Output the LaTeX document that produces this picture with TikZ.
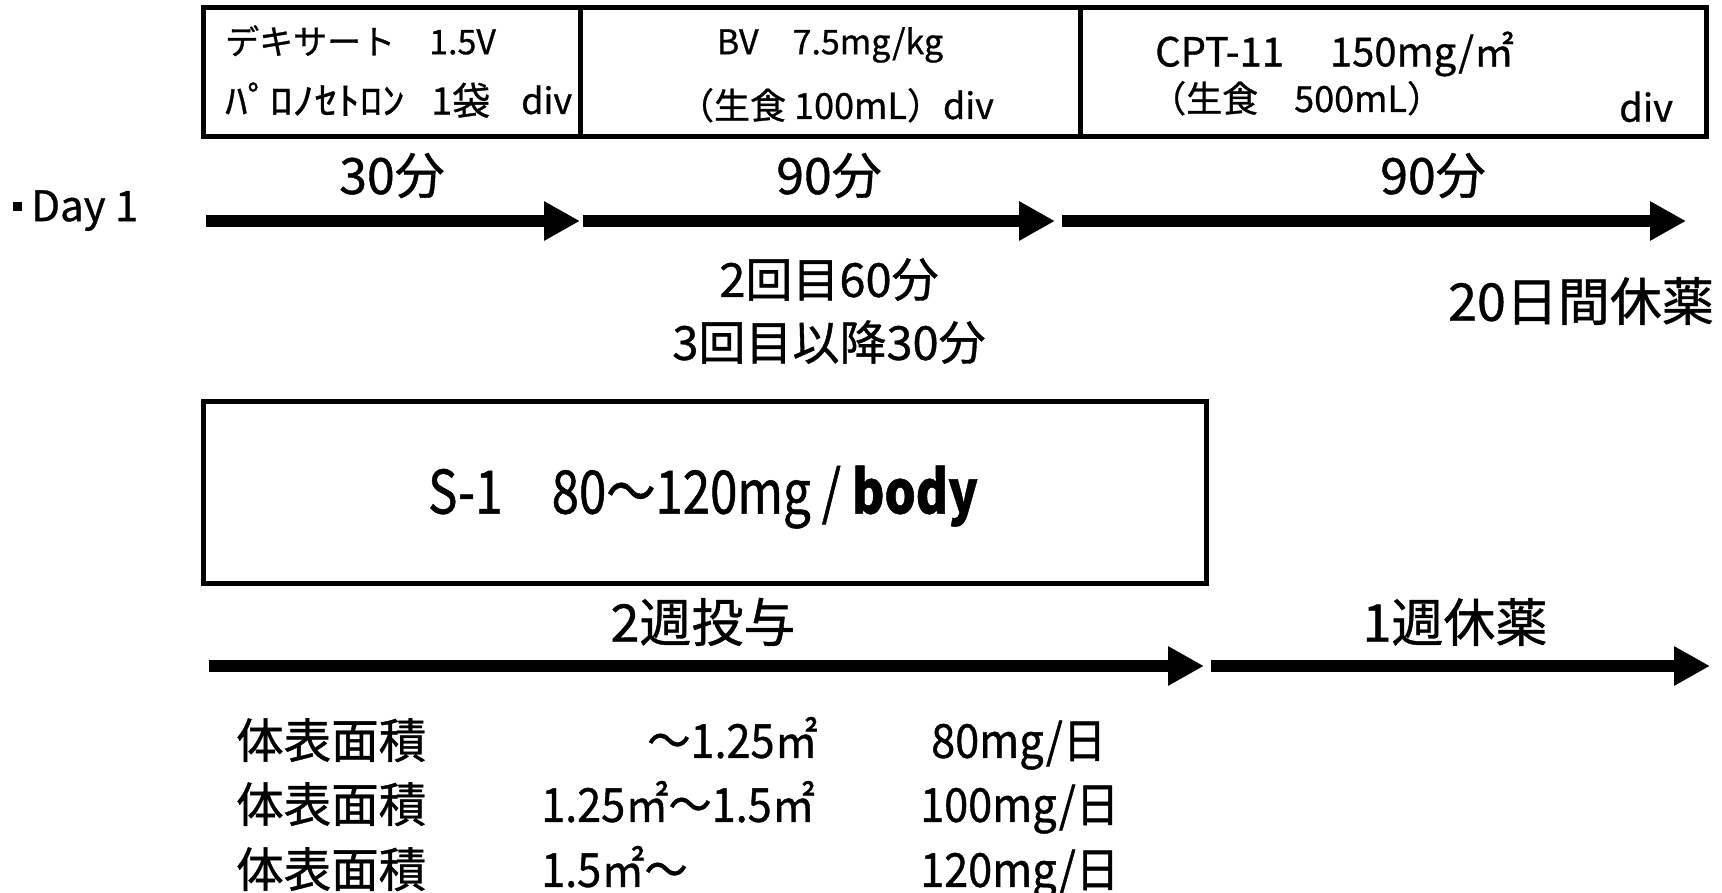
\documentclass[tikz,border=0pt]{standalone}
\usepackage{fontspec}
\newfontfamily\jp[FakeBold=0.8]{Noto Sans CJK JP}
\newfontfamily\jpc[FakeBold=0.8, FakeStretch=0.82]{Noto Sans CJK JP}
\newfontfamily\jpn[FakeBold=0.8, FakeStretch=0.92]{Noto Sans CJK JP}
\newfontfamily\jpw[FakeBold=0.8, FakeStretch=1.18]{Noto Sans CJK JP}
\usetikzlibrary{arrows.meta}
\begin{document}
\begin{tikzpicture}[x=1pt,y=-1pt,
  lbl/.style={font={\jp\fontsize{#1}{#1}\selectfont}, inner sep=0pt, text height={0.86*#1pt}, text depth={0.14*#1pt}},
  lblc/.style={font={\jpc\fontsize{#1}{#1}\selectfont}, inner sep=0pt, text height={0.86*#1pt}, text depth={0.14*#1pt}},
  lbln/.style={font={\jpn\fontsize{#1}{#1}\selectfont}, inner sep=0pt, text height={0.86*#1pt}, text depth={0.14*#1pt}},
  lblw/.style={font={\jpw\fontsize{#1}{#1}\selectfont}, inner sep=0pt, text height={0.86*#1pt}, text depth={0.14*#1pt}},
  box/.style={draw, line width=5pt, inner sep=0pt},
  flow/.style={line width=12pt, -{Triangle[length=36pt,width=37pt]}}
]
\useasboundingbox[fill=white] (0,0) rectangle (1722,893);

% top boxes
\node[box, minimum width=377pt, minimum height=129pt] (b1) at (391.5,72.5) {};
\node[box, minimum width=500pt, minimum height=129pt] (b2) at (830,72.5) {};
\node[box, minimum width=626pt, minimum height=129pt] (b3) at (1393,72.5) {};

\node[lbl=34, anchor=west] (t11) at (225,42) {デキサート　1.5V};
\node[lblw=38, anchor=west] (t12a) at (225,101) {ﾊﾟﾛﾉｾﾄﾛﾝ};
\node[lbl=38, anchor=west] (t12b) at (431,101) {1袋};
\node[lbl=36, anchor=west] (t12c) at (521,101) {div};
\node[lbl=34] (t21) at (830,42) {BV　7.5mg/kg};
\node[lbl=36] (t22) at (836,106) {（生食 100mL）div};
\node[lbl=40, anchor=west] (t31) at (1155,52) {CPT-11\hspace{46pt}150mg/㎡};
\node[lbl=36, anchor=west] (t32) at (1150,99) {（生食　500mL）};
\node[lbl=38, anchor=west] (t33) at (1619,108) {div};

% day 1 row
\node[lbl=42, anchor=west] (day) at (13,206) {\raisebox{10.5pt}{\rule{9pt}{9pt}}\hspace{9pt}Day 1};
\node[lbl=50] (m1) at (392,176) {30分};
\node[lbl=50] (m2) at (829,176) {90分};
\node[lbl=50] (m3) at (1433,176) {90分};

\coordinate (a1s) at (206,221);
\coordinate (a1e) at (580,221);
\coordinate (a2s) at (583,221);
\coordinate (a2e) at (1055,221);
\coordinate (a3s) at (1062,221);
\coordinate (a3e) at (1686,221);
\draw[flow] (a1s) -- (a1e);
\draw[flow] (a2s) -- (a2e);
\draw[flow] (a3s) -- (a3e);

\node[lbl=47] (n2) at (829,280) {2回目60分};
\node[lbl=47] (n3) at (829,343) {3回目以降30分};
\node[lbl=52] (rest1) at (1581,302) {20日間休薬};

% S-1 box
\node[box, minimum width=1003pt, minimum height=182pt] (s1) at (704.5,492) {};
\node[lblc=60] (s1t) at (703,492) {S-1　80～120mg / \textbf{body}};

\node[lbl=52] (w2) at (703,623) {2週投与};
\node[lbl=52] (w1) at (1455,623) {1週休薬};

\coordinate (b1s) at (209,666);
\coordinate (b1e) at (1204,666);
\coordinate (b2s) at (1211,666);
\coordinate (b2e) at (1710,666);
\draw[flow] (b1s) -- (b1e);
\draw[flow] (b2s) -- (b2e);

% table
\node[lbl=47.5, anchor=west] (r1a) at (236,741) {体表面積};
\node[lbl=47.5, anchor=west] (r2a) at (236,805) {体表面積};
\node[lbl=47.5, anchor=west] (r3a) at (236,870) {体表面積};
\node[lbln=47, anchor=east] (r1b) at (818,741) {～1.25㎡};
\node[lbln=47, anchor=west] (r2b) at (541,805) {1.25㎡～1.5㎡};
\node[lbln=47, anchor=west] (r3b) at (541,870) {1.5㎡～};
\node[lbln=47, anchor=west] (r1c) at (931,741) {80mg/日};
\node[lbln=47, anchor=west] (r2c) at (920,805) {100mg/日};
\node[lbln=47, anchor=west] (r3c) at (920,870) {120mg/日};
\end{tikzpicture}
\end{document}
